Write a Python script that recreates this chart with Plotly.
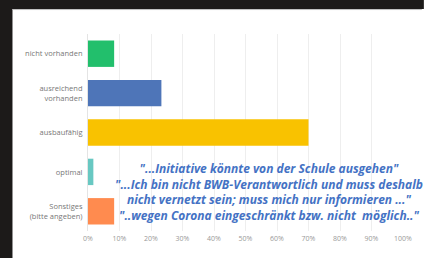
import plotly.graph_objects as go

categories = ["nicht vorhanden", "ausreichend<br>vorhanden", "ausbaufähig", "optimal", "Sonstiges<br>(bitte angeben)"]
values = [8.3, 23.3, 70.0, 1.7, 8.3]
colors = ["#22bf6c", "#4e75b8", "#f9c200", "#68c8c2", "#ff8b4f"]
tick_vals = [0, 10, 20, 30, 40, 50, 60, 70, 80, 90, 100]
tick_text = ["0%", "10%", "20%", "30%", "40%", "50%", "60%", "70%", "80%", "90%", "100%"]
quotes = [
    "\"...Initiative könnte von der Schule ausgehen\"",
    "\"...Ich bin nicht BWB-Verantwortlich und muss deshalb",
    "nicht vernetzt sein; muss mich nur informieren ...\"",
    "\"..wegen Corona eingeschränkt bzw. nicht  möglich..\"",
]

W, H = 424, 258
L, R = 88, 405          # plot area in px
T, B = 34, 231.5

def px_x(p):
    return (p - L) / (R - L)

def px_y(p):
    return (B - p) / (B - T)

fig = go.Figure(go.Bar(
    x=values, y=categories, orientation="h",
    marker=dict(color=colors, line=dict(width=0)),
    hoverinfo="skip",
))

shapes = [
    dict(type="rect", xref="paper", yref="paper", x0=px_x(-2), x1=px_x(12), y0=px_y(H + 2), y1=px_y(-2),
         fillcolor="#1c1a19", line=dict(width=0), layer="above"),
    dict(type="rect", xref="paper", yref="paper", x0=px_x(-2), x1=px_x(W + 2), y0=px_y(9), y1=px_y(-2),
         fillcolor="#1c1a19", line=dict(width=0), layer="above"),
    dict(type="line", xref="paper", yref="paper", x0=px_x(12), x1=px_x(W), y0=px_y(9.5), y1=px_y(9.5),
         line=dict(color="#bdbdbd", width=1)),
]

annotations = [dict(
    text="<b><i>" + "<br>".join(quotes) + "</i></b>", xref="paper", yref="paper",
    x=px_x(270), y=px_y(192), xanchor="center", yanchor="middle", align="center",
    showarrow=False, font=dict(family="Open Sans", size=12, color="#4472c4"),
)]

fig.update_layout(
    width=W, height=H,
    margin=dict(l=L, r=W - R, t=T, b=H - B, pad=0),
    paper_bgcolor="white", plot_bgcolor="white",
    bargap=0.33, showlegend=False,
    shapes=shapes, annotations=annotations,
    xaxis=dict(range=[0, 100], tickvals=tick_vals, ticktext=tick_text,
               showgrid=True, gridcolor="#eeeeee", gridwidth=1, zeroline=False,
               showline=False, ticks="", fixedrange=True, ticklabelstandoff=2,
               tickfont=dict(family="Open Sans", size=7, color="#999999")),
    yaxis=dict(categoryorder="array", categoryarray=categories, autorange="reversed",
               showgrid=False, zeroline=False, showline=True, linecolor="#e4e4e4", linewidth=1,
               ticks="", ticklabelstandoff=3, fixedrange=True,
               tickfont=dict(family="Open Sans", size=7.5, color="#777777")),
    font=dict(family="Open Sans"),
)

fig.write_html("out.html", config={"displayModeBar": False},
               post_script="document.body.style.margin='0';document.body.style.overflow='hidden';")
